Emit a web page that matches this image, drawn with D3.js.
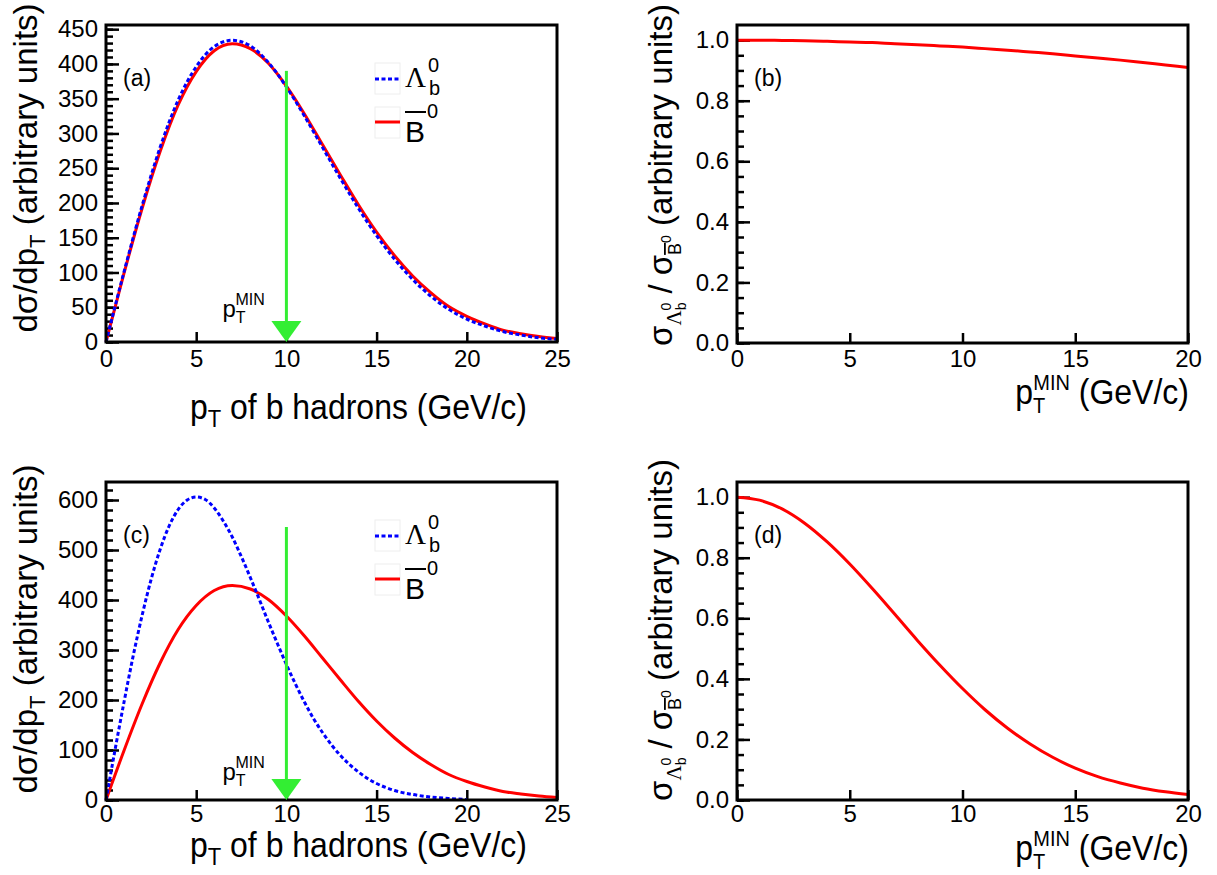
<!DOCTYPE html>
<html>
<head>
<meta charset="utf-8">
<script src="https://cdn.jsdelivr.net/npm/d3@7"></script>
<style>
  body { margin: 0; background: #fff; }
  text { font-family: "Liberation Sans", Arial, sans-serif; fill: #000; }
</style>
</head>
<body>
<svg id="fig" width="1217" height="875"></svg>
<script>
// p_T grid of the spectra (GeV/c)
const ptSpec = [0,1,2,3,4,5,6,7,8,9,10,11,12,13,14,15,16,17,18,19,20,21,22,23,24,25];
// anti-B0 spectrum, same in (a) and (c)
const bbarSpec = [0,99,192,274,341,389,419,429,422,401,368,328,284,240,197,158,124,95,71,51,37,26,17,12,8,5];
// Lambda_b spectrum in (a)
const lambdaSpecA = [0,101,196,280,348,396,425,434,426,402,367,325,280,235,192,153,119,90,66,47,33,23,15,10,6,4];
// Lambda_b spectrum in (c)
const ptLambdaC = [0,0.5,1,1.5,2,2.5,3,3.5,4,4.5,5,5.5,6,6.5,7,7.5,8,8.5,9,9.5,10,10.5,11,11.5,12,12.5,13,13.5,14,14.5,15,16,17,18,19,20];
const lambdaSpecC = [0,100,196,287,369,441,501,548,581,600,606,601,584,558,526,487,445,401,356,313,271,232,196,163,135,110,89,71,56,43,33,19,11,6,3,1];

// p_T^MIN grid and cross-section ratios
const ptMin = [0,1,2,3,4,5,6,7,8,9,10,11,12,13,14,15,16,17,18,19,20];
const ratioB = [1.000,1.000,0.999,0.998,0.996,0.994,0.992,0.988,0.985,0.981,0.977,0.972,0.967,0.961,0.955,0.948,0.941,0.934,0.926,0.918,0.910];
const ratioD = [1.000,0.990,0.961,0.914,0.852,0.779,0.698,0.613,0.527,0.445,0.368,0.298,0.237,0.185,0.141,0.105,0.077,0.056,0.039,0.027,0.018];

// ticks
const xTicksSpec = [0,5,10,15,20,25];
const xTicksRatio = [0,5,10,15,20];
const yTicksA = [0,50,100,150,200,250,300,350,400,450];
const yTicksC = [0,100,200,300,400,500,600];
const yTicksRatio = [0,0.2,0.4,0.6,0.8,1.0];

// p_T^MIN cut shown by the arrow
const ptCut = 10;

const svg = d3.select("#fig");
const green = "#33ee33";

function zip(xs, ys) { return xs.map((v, i) => [v, ys[i]]); }

function panel(cfg) {
  const x = d3.scaleLinear().domain(cfg.xDomain).range([cfg.left, cfg.right]);
  const y = d3.scaleLinear().domain(cfg.yDomain).range([cfg.bottom, cfg.top]);
  const g = svg.append("g");

  // minor y ticks
  g.append("g")
      .attr("transform", "translate(" + cfg.left + ",0)")
      .call(d3.axisLeft(y).tickValues(cfg.yMinor).tickSize(-7).tickFormat(""))
      .call(a => a.select(".domain").remove());
  // major y ticks
  g.append("g")
      .attr("class", "axis-y")
      .attr("transform", "translate(" + cfg.left + ",0)")
      .call(d3.axisLeft(y).tickValues(cfg.yTicks).tickSize(-13).tickPadding(8).tickFormat(cfg.yFormat))
      .call(a => a.select(".domain").remove());
  // x ticks
  g.append("g")
      .attr("class", "axis-x")
      .attr("transform", "translate(0," + cfg.bottom + ")")
      .call(d3.axisBottom(x).tickValues(cfg.xTicks).tickSize(-10).tickPadding(cfg.xPad))
      .call(a => a.select(".domain").remove());

  g.selectAll(".tick line").attr("stroke", "#000").attr("stroke-width", 2.5);
  g.selectAll(".axis-x, .axis-y").attr("font-size", 24);

  const line = d3.line()
      .x(d => x(d[0]))
      .y(d => y(d[1]))
      .curve(d3.curveMonotoneX);

  cfg.series.forEach(s => {
    g.append("path")
        .datum(zip(s.x, s.y))
        .attr("fill", "none")
        .attr("stroke", s.color)
        .attr("stroke-width", 3)
        .attr("stroke-dasharray", s.dash || null)
        .attr("d", line);
  });

  // frame
  g.append("rect")
      .attr("x", cfg.left).attr("y", cfg.top)
      .attr("width", cfg.right - cfg.left).attr("height", cfg.bottom - cfg.top)
      .attr("fill", "none").attr("stroke", "#000").attr("stroke-width", 3);

  // panel tag
  g.append("text")
      .attr("x", cfg.left + 17).attr("y", cfg.top + 61)
      .attr("font-size", 23)
      .text(cfg.tag);

  // arrow at p_T^MIN
  if (cfg.arrowTop !== undefined) {
    const xa = x(ptCut), y0 = y(0), yt = y(cfg.arrowTop);
    g.append("line")
        .attr("x1", xa).attr("x2", xa).attr("y1", yt).attr("y2", y0 - 20)
        .attr("stroke", green).attr("stroke-width", 3);
    g.append("path")
        .attr("d", "M" + (xa - 15) + "," + (y0 - 21) + "L" + (xa + 15) + "," + (y0 - 21) + "L" + xa + "," + y0 + "Z")
        .attr("fill", green);
    const lab = g.append("text")
        .attr("x", xa - 64).attr("y", y0 - cfg.arrowLabelUp)
        .attr("font-size", 24);
    lab.append("tspan").text("p");
    lab.append("tspan").attr("font-size", 16).attr("dy", 6).text("T");
    lab.append("tspan").attr("font-size", 16).attr("dx", -10).attr("dy", -18).text("MIN");
  }

  // legend
  if (cfg.legend) {
    const lx = cfg.left + 269, ly = cfg.top + 38;
    [0, 44].forEach(off => {
      g.append("rect")
          .attr("x", lx).attr("y", ly + off).attr("width", 25).attr("height", 31)
          .attr("fill", "none").attr("stroke", "#eeeeee").attr("stroke-width", 1);
    });
    g.append("line")
        .attr("x1", lx).attr("x2", lx + 25).attr("y1", ly + 16).attr("y2", ly + 16)
        .attr("stroke", "#0000ff").attr("stroke-width", 3).attr("stroke-dasharray", "4 2.5");
    g.append("line")
        .attr("x1", lx).attr("x2", lx + 25).attr("y1", ly + 59).attr("y2", ly + 59)
        .attr("stroke", "#ff0000").attr("stroke-width", 3);
    g.append("text").attr("x", lx + 30).attr("y", ly + 24)
        .attr("font-size", 29).style("font-family", "'Liberation Serif', serif").text("Λ");
    g.append("text").attr("x", lx + 54).attr("y", ly + 32).attr("font-size", 20).text("b");
    g.append("text").attr("x", lx + 53).attr("y", ly + 9).attr("font-size", 20).text("0");
    g.append("text").attr("x", lx + 30).attr("y", ly + 79).attr("font-size", 30).text("B");
    g.append("line")
        .attr("x1", lx + 30).attr("x2", lx + 51).attr("y1", ly + 49).attr("y2", ly + 49)
        .attr("stroke", "#000").attr("stroke-width", 2);
    g.append("text").attr("x", lx + 52).attr("y", ly + 55).attr("font-size", 20).text("0");
  }

  // x title (slightly stretched vertically like the reference lettering)
  const xt = g.append("g")
      .attr("transform", "translate(" + cfg.xTitleX + "," + cfg.xTitleY + ") scale(1,1.1)")
      .append("text")
      .attr("text-anchor", "end").attr("font-size", 32);
  if (cfg.ratio) {
    xt.append("tspan").text("p");
    xt.append("tspan").attr("font-size", 20).attr("dy", 8).text("T");
    xt.append("tspan").attr("font-size", 20).attr("dx", -12).attr("dy", -21).text("MIN");
    xt.append("tspan").attr("dy", 13).text(" (GeV/c)");
  } else {
    xt.append("tspan").text("p");
    xt.append("tspan").attr("font-size", 22).attr("dy", 7).text("T");
    xt.append("tspan").attr("dy", -7).text(" of b hadrons (GeV/c)");
  }

  // y title
  const yt = g.append("text")
      .attr("transform", "translate(" + cfg.yTitleX + "," + cfg.yTitleY + ") rotate(-90)")
      .attr("text-anchor", "middle").attr("font-size", 33);
  if (cfg.ratio) {
    yt.append("tspan").text("σ");
    yt.append("tspan").attr("font-size", 21).attr("dy", 9)
        .style("font-family", "'Liberation Serif', serif").text("Λ");
    yt.append("tspan").attr("font-size", 14).attr("dy", 5).text("b");
    yt.append("tspan").attr("font-size", 14).attr("dx", -8).attr("dy", -15).text("0");
    yt.append("tspan").attr("dy", 1).text(" / σ");
    yt.append("tspan").attr("font-size", 18).attr("dy", 9)
        .style("text-decoration", "overline").text("B");
    yt.append("tspan").attr("font-size", 14).attr("dy", -10).text("0");
    yt.append("tspan").attr("dy", 1).text(" (arbitrary units)");
  } else {
    yt.append("tspan").text("dσ/dp");
    yt.append("tspan").attr("font-size", 22).attr("dy", 8).text("T");
    yt.append("tspan").attr("dy", -8).text(" (arbitrary units)");
  }
}

const fmt1 = d3.format(".1f");

panel({
  left: 106, right: 557, top: 25, bottom: 342,
  xDomain: [0, 25], yDomain: [0, 456],
  xTicks: xTicksSpec, yTicks: yTicksA, yMinor: d3.range(0, 451, 10),
  yFormat: d3.format("d"), xPad: 8,
  series: [
    { x: ptSpec, y: bbarSpec, color: "#ff0000" },
    { x: ptSpec, y: lambdaSpecA, color: "#0000ff", dash: "4 2.5" }
  ],
  tag: "(a)",
  arrowTop: 390, arrowLabelUp: 25,
  legend: true,
  xTitleX: 527, xTitleY: 419,
  yTitleX: 37, yTitleY: 168
});

panel({
  left: 737, right: 1188, top: 25, bottom: 343,
  xDomain: [0, 20], yDomain: [0, 1.05],
  xTicks: xTicksRatio, yTicks: yTicksRatio, yMinor: d3.range(0, 1.01, 0.05),
  yFormat: fmt1, xPad: 7,
  series: [ { x: ptMin, y: ratioB, color: "#ff0000" } ],
  tag: "(b)",
  ratio: true,
  xTitleX: 1189, xTitleY: 404,
  yTitleX: 672, yTitleY: 175
});

panel({
  left: 106, right: 557, top: 482, bottom: 800,
  xDomain: [0, 25], yDomain: [0, 636],
  xTicks: xTicksSpec, yTicks: yTicksC, yMinor: d3.range(0, 621, 20),
  yFormat: d3.format("d"), xPad: 5,
  series: [
    { x: ptSpec, y: bbarSpec, color: "#ff0000" },
    { x: ptLambdaC, y: lambdaSpecC, color: "#0000ff", dash: "4 2.5" }
  ],
  tag: "(c)",
  arrowTop: 546, arrowLabelUp: 20,
  legend: true,
  xTitleX: 527, xTitleY: 857,
  yTitleX: 37, yTitleY: 629
});

panel({
  left: 737, right: 1188, top: 482, bottom: 800,
  xDomain: [0, 20], yDomain: [0, 1.05],
  xTicks: xTicksRatio, yTicks: yTicksRatio, yMinor: d3.range(0, 1.01, 0.05),
  yFormat: fmt1, xPad: 5,
  series: [ { x: ptMin, y: ratioD, color: "#ff0000" } ],
  tag: "(d)",
  ratio: true,
  xTitleX: 1189, xTitleY: 860,
  yTitleX: 672, yTitleY: 630
});
</script>
</body>
</html>
